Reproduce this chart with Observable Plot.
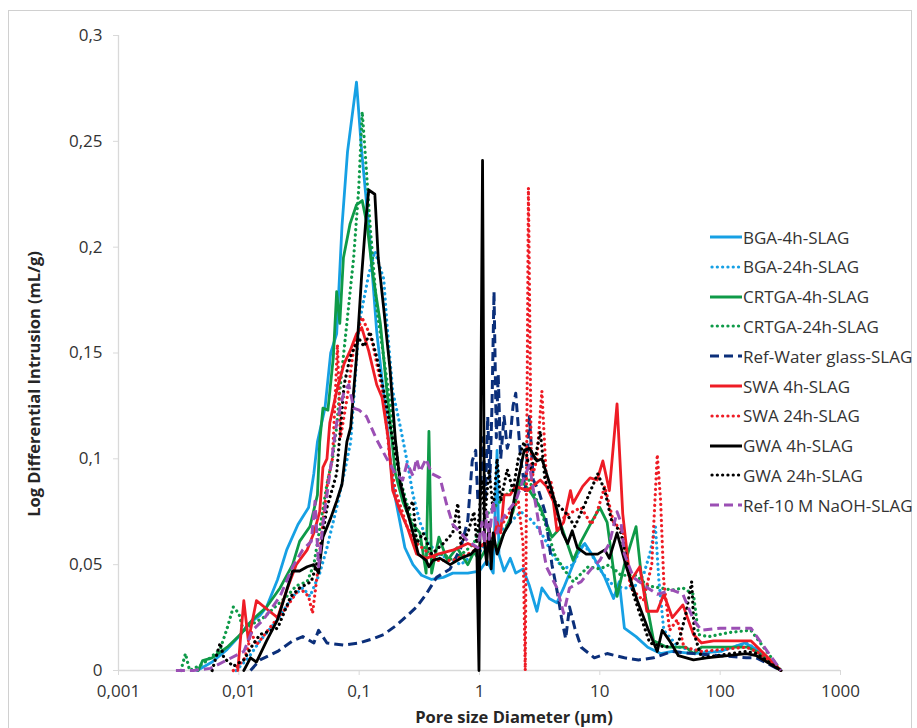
<!DOCTYPE html>
<html><head><meta charset="utf-8">
<script src="https://cdn.jsdelivr.net/npm/d3@7"></script>
<script src="https://cdn.jsdelivr.net/npm/@observablehq/plot@0.6"></script>
<style>
body{margin:0;background:#fff;}
#wrap{position:relative;width:917px;height:728px;overflow:hidden;font-family:"Open Sans",sans-serif;color:#333;}
#frame{position:absolute;left:8px;top:10px;width:902px;height:740px;border:1px solid #d0d0d0;}
#chart{position:absolute;left:0;top:0;}
.ttl{position:absolute;font-weight:bold;font-size:16.5px;white-space:nowrap;color:#262626;}
#ytitle{left:33px;top:384px;transform:translate(-50%,-50%) rotate(-90deg);}
#xtitle{left:514px;top:716px;transform:translate(-50%,-50%);}
.leg{position:absolute;left:710px;height:24px;display:flex;align-items:center;font-size:17px;white-space:nowrap;color:#333;}
.leg svg{margin-right:1px;}
</style></head><body><div id="wrap"><div id="frame"></div><div id="chart"></div>
<div class="ttl" id="ytitle">Log Differential Intrusion (mL/g)</div>
<div class="ttl" id="xtitle">Pore size Diameter (µm)</div>
</div>
<script>
// Tick values
const xTicks = [0.001, 0.01, 0.1, 1, 10, 100, 1000];
const yTicks = [0, 0.05, 0.1, 0.15, 0.2, 0.25, 0.3];
const seriesNames = ["BGA-4h-SLAG","BGA-24h-SLAG","CRTGA-4h-SLAG","CRTGA-24h-SLAG","Ref-Water glass-SLAG","SWA 4h-SLAG","SWA 24h-SLAG","GWA 4h-SLAG","GWA 24h-SLAG","Ref-10 M NaOH-SLAG"];

// [pore diameter (µm), log differential intrusion (mL/g)]
const BGA4h = [[0.0045,0],[0.006,0.004],[0.008,0.01],[0.01,0.016],[0.012,0.022],[0.015,0.026],[0.017,0.03],[0.021,0.043],[0.025,0.057],[0.031,0.069],[0.038,0.077],[0.042,0.093],[0.045,0.108],[0.052,0.124],[0.058,0.15],[0.065,0.159],[0.072,0.21],[0.08,0.245],[0.095,0.278],[0.105,0.245],[0.12,0.21],[0.14,0.16],[0.17,0.117],[0.19,0.088],[0.21,0.075],[0.24,0.058],[0.28,0.05],[0.33,0.045],[0.4,0.043],[0.5,0.044],[0.6,0.046],[0.8,0.046],[1.0,0.047],[1.15,0.052],[1.3,0.046],[1.4,0.104],[1.45,0.055],[1.6,0.047],[1.8,0.053],[2.0,0.046],[2.3,0.048],[2.6,0.04],[3.0,0.028],[3.3,0.039],[3.8,0.034],[4.4,0.032],[5.0,0.039],[6.5,0.055],[7.5,0.06],[9,0.053],[11,0.044],[13,0.034],[14.5,0.042],[16,0.02],[20,0.016],[25,0.011],[32,0.008],[40,0.009],[60,0.008],[100,0.009],[160,0.013],[200,0.01],[320,0]];
const BGA24h = [[0.0095,0],[0.012,0.006],[0.015,0.014],[0.021,0.024],[0.028,0.035],[0.034,0.039],[0.039,0.035],[0.047,0.046],[0.054,0.058],[0.065,0.077],[0.077,0.096],[0.085,0.108],[0.1,0.164],[0.12,0.187],[0.135,0.198],[0.16,0.185],[0.17,0.164],[0.19,0.132],[0.22,0.115],[0.25,0.099],[0.28,0.083],[0.32,0.07],[0.38,0.06],[0.45,0.055],[0.55,0.053],[0.7,0.05],[0.85,0.054],[1.0,0.056],[1.2,0.062],[1.5,0.066],[1.8,0.07],[2.2,0.075],[2.6,0.072],[3,0.068],[3.5,0.062],[4,0.055],[5,0.048],[6,0.05],[7.2,0.06],[8.5,0.055],[10.5,0.046],[13,0.04],[16,0.039],[19,0.039],[23,0.045],[26,0.055],[29,0.068],[31,0.042],[34,0.019],[45,0.011],[70,0.009],[100,0.009],[165,0.013],[200,0.01],[320,0]];
const CRTGA4h = [[0.0046,0],[0.005,0.0047],[0.006,0.006],[0.008,0.011],[0.0103,0.017],[0.013,0.024],[0.017,0.03],[0.022,0.039],[0.028,0.05],[0.032,0.061],[0.039,0.068],[0.045,0.083],[0.047,0.108],[0.05,0.124],[0.055,0.123],[0.061,0.148],[0.065,0.179],[0.069,0.164],[0.074,0.195],[0.084,0.211],[0.095,0.22],[0.106,0.222],[0.116,0.211],[0.13,0.187],[0.15,0.164],[0.17,0.132],[0.2,0.093],[0.23,0.08],[0.27,0.07],[0.32,0.065],[0.36,0.046],[0.38,0.113],[0.4,0.046],[0.46,0.063],[0.54,0.052],[0.65,0.058],[0.8,0.05],[0.9,0.056],[1.0,0.052],[1.2,0.06],[1.4,0.058],[1.6,0.065],[1.9,0.075],[2.2,0.09],[2.6,0.085],[3.2,0.077],[4,0.063],[4.8,0.068],[6,0.052],[7,0.061],[8.5,0.07],[10,0.077],[11.5,0.07],[13.9,0.035],[16,0.05],[20,0.068],[22,0.046],[28,0.014],[36,0.011],[52,0.011],[60,0.008],[70,0.011],[170,0.011],[200,0.009],[320,0]];
const CRTGA24h = [[0.0033,0],[0.0036,0.008],[0.0039,0],[0.005,0.003],[0.007,0.01],[0.008,0.02],[0.009,0.03],[0.01,0.027],[0.011,0.018],[0.013,0.022],[0.016,0.025],[0.02,0.03],[0.025,0.035],[0.03,0.04],[0.037,0.042],[0.042,0.05],[0.048,0.07],[0.054,0.088],[0.06,0.1],[0.065,0.115],[0.069,0.132],[0.079,0.164],[0.09,0.195],[0.099,0.227],[0.106,0.264],[0.113,0.242],[0.123,0.211],[0.14,0.171],[0.16,0.148],[0.19,0.117],[0.22,0.09],[0.26,0.075],[0.3,0.062],[0.35,0.058],[0.4,0.054],[0.5,0.055],[0.6,0.052],[0.75,0.056],[0.9,0.06],[1.0,0.068],[1.2,0.075],[1.5,0.08],[1.8,0.085],[2.2,0.088],[2.6,0.09],[3.0,0.08],[3.5,0.07],[4.2,0.055],[5,0.048],[6,0.042],[8,0.049],[10,0.048],[12,0.05],[15,0.045],[20,0.045],[25,0.04],[32,0.039],[40,0.038],[49,0.039],[60,0.036],[66,0.017],[80,0.016],[120,0.018],[180,0.019],[320,0]];
const RefWater = [[0.0125,0],[0.015,0.005],[0.021,0.009],[0.028,0.014],[0.034,0.016],[0.042,0.013],[0.046,0.019],[0.054,0.013],[0.074,0.012],[0.1,0.013],[0.13,0.015],[0.16,0.017],[0.2,0.021],[0.23,0.024],[0.3,0.03],[0.36,0.036],[0.44,0.044],[0.57,0.048],[0.7,0.058],[0.8,0.071],[0.87,0.099],[0.93,0.104],[0.97,0.08],[1.02,0.085],[1.07,0.11],[1.12,0.08],[1.17,0.12],[1.22,0.09],[1.27,0.125],[1.32,0.179],[1.38,0.11],[1.43,0.14],[1.5,0.1],[1.6,0.12],[1.7,0.105],[1.8,0.11],[1.9,0.125],[2.0,0.131],[2.2,0.1],[2.4,0.085],[2.6,0.12],[2.8,0.09],[3.1,0.085],[3.5,0.075],[4.0,0.05],[4.5,0.035],[4.8,0.025],[5.2,0.015],[5.6,0.03],[6.2,0.02],[7,0.011],[9,0.006],[11.5,0.008],[16,0.006],[21,0.005],[28,0.006],[40,0.009],[60,0.008],[100,0.007],[165,0.006],[200,0.006],[320,0]];
const SWA4h = [[0.0098,0],[0.011,0.033],[0.012,0.014],[0.014,0.033],[0.018,0.028],[0.021,0.025],[0.025,0.038],[0.03,0.05],[0.037,0.057],[0.042,0.065],[0.047,0.075],[0.05,0.096],[0.054,0.1],[0.057,0.117],[0.065,0.132],[0.075,0.145],[0.084,0.151],[0.095,0.159],[0.105,0.162],[0.12,0.151],[0.14,0.135],[0.155,0.129],[0.175,0.109],[0.19,0.085],[0.22,0.075],[0.25,0.068],[0.3,0.055],[0.36,0.053],[0.45,0.055],[0.61,0.057],[0.8,0.06],[0.97,0.058],[1.1,0.06],[1.25,0.055],[1.4,0.07],[1.5,0.065],[1.6,0.083],[1.8,0.083],[2.0,0.087],[2.5,0.085],[3.2,0.09],[3.6,0.087],[4.1,0.08],[4.4,0.066],[5.0,0.07],[5.7,0.085],[6.0,0.079],[7.2,0.087],[8.3,0.091],[9.5,0.09],[10.6,0.099],[12,0.085],[13.9,0.126],[15.5,0.074],[17.9,0.042],[21.5,0.049],[24.6,0.028],[30,0.028],[34,0.036],[40,0.025],[49,0.031],[60,0.017],[70,0.013],[88,0.014],[180,0.014],[320,0]];
const SWA24h = [[0.009,0],[0.011,0.005],[0.012,0.011],[0.0125,0.019],[0.014,0.012],[0.018,0.02],[0.025,0.03],[0.032,0.039],[0.038,0.035],[0.041,0.027],[0.045,0.046],[0.05,0.07],[0.055,0.09],[0.06,0.1],[0.066,0.154],[0.07,0.11],[0.08,0.13],[0.09,0.152],[0.105,0.167],[0.12,0.16],[0.13,0.154],[0.16,0.129],[0.18,0.1],[0.2,0.085],[0.25,0.068],[0.3,0.06],[0.35,0.057],[0.45,0.052],[0.6,0.052],[0.8,0.055],[1.0,0.058],[1.2,0.062],[1.5,0.068],[1.8,0.075],[2.1,0.08],[2.3,0.06],[2.4,0],[2.5,0.15],[2.55,0.228],[2.7,0.09],[3.0,0.1],[3.3,0.132],[3.6,0.09],[3.9,0.09],[4.5,0.07],[5.5,0.074],[7,0.077],[8.5,0.069],[9.5,0.075],[11,0.087],[13,0.07],[15.5,0.066],[18,0.039],[23,0.033],[27,0.05],[30,0.102],[32,0.08],[34,0.042],[38,0.019],[44,0.024],[50,0.011],[70,0.009],[165,0.011],[200,0.009],[320,0]];
const GWA4h = [[0.011,0],[0.0125,0.006],[0.014,0.004],[0.017,0.014],[0.021,0.024],[0.025,0.038],[0.028,0.047],[0.032,0.047],[0.037,0.049],[0.042,0.05],[0.046,0.046],[0.05,0.063],[0.058,0.072],[0.065,0.08],[0.072,0.088],[0.079,0.108],[0.085,0.115],[0.095,0.148],[0.105,0.187],[0.113,0.211],[0.12,0.227],[0.135,0.225],[0.144,0.195],[0.16,0.171],[0.18,0.143],[0.2,0.109],[0.22,0.088],[0.26,0.072],[0.28,0.065],[0.31,0.055],[0.36,0.052],[0.38,0.049],[0.41,0.052],[0.47,0.053],[0.57,0.05],[0.7,0.053],[0.85,0.055],[0.95,0.058],[0.99,0],[1.06,0.241],[1.1,0.06],[1.15,0.05],[1.2,0.07],[1.25,0.048],[1.3,0.065],[1.4,0.055],[1.6,0.065],[1.8,0.07],[2.0,0.085],[2.2,0.096],[2.35,0.104],[2.6,0.105],[3.0,0.099],[3.3,0.1],[3.9,0.087],[4.4,0.076],[4.9,0.065],[5.4,0.06],[5.9,0.066],[6.5,0.058],[7.7,0.055],[9.6,0.055],[11,0.057],[12,0.053],[13.9,0.065],[16.6,0.049],[20.5,0.033],[25,0.02],[30,0.009],[33,0.019],[38,0.014],[45,0.007],[60,0.005],[77,0.006],[165,0.008],[200,0.007],[320,0]];
const GWA24h = [[0.006,0],[0.007,0.013],[0.0075,0.006],[0.009,0.002],[0.011,0.005],[0.013,0.012],[0.015,0.017],[0.021,0.02],[0.027,0.035],[0.032,0.039],[0.04,0.042],[0.047,0.055],[0.054,0.077],[0.065,0.093],[0.075,0.135],[0.084,0.148],[0.099,0.157],[0.11,0.153],[0.123,0.16],[0.14,0.148],[0.16,0.132],[0.19,0.109],[0.22,0.09],[0.25,0.075],[0.28,0.08],[0.3,0.06],[0.34,0.065],[0.4,0.055],[0.5,0.06],[0.6,0.065],[0.66,0.079],[0.7,0.06],[0.8,0.065],[0.9,0.075],[0.95,0.06],[1.05,0.09],[1.1,0.07],[1.2,0.095],[1.3,0.075],[1.4,0.1],[1.5,0.08],[1.7,0.095],[1.9,0.085],[2.1,0.1],[2.35,0.108],[2.6,0.095],[2.9,0.1],[3.2,0.113],[3.5,0.09],[4.2,0.08],[5.3,0.074],[6.2,0.068],[7.7,0.08],[9.6,0.093],[11,0.085],[12.5,0.071],[15,0.065],[19,0.036],[22,0.025],[26,0.013],[35,0.011],[45,0.013],[52,0.027],[58,0.042],[61,0.017],[70,0.006],[165,0.009],[200,0.008],[320,0]];
const RefNaOH = [[0.003,0],[0.0042,0],[0.0058,0.001],[0.008,0.005],[0.011,0.009],[0.013,0.019],[0.016,0.024],[0.022,0.035],[0.028,0.049],[0.034,0.057],[0.04,0.061],[0.043,0.08],[0.046,0.049],[0.05,0.069],[0.057,0.093],[0.065,0.117],[0.075,0.132],[0.082,0.135],[0.09,0.124],[0.1,0.123],[0.115,0.12],[0.14,0.109],[0.17,0.1],[0.2,0.093],[0.23,0.09],[0.25,0.098],[0.28,0.092],[0.3,0.1],[0.32,0.094],[0.36,0.1],[0.4,0.093],[0.47,0.091],[0.53,0.079],[0.6,0.069],[0.7,0.065],[0.8,0.061],[0.97,0.058],[1.05,0.07],[1.1,0.06],[1.15,0.075],[1.2,0.062],[1.3,0.08],[1.4,0.065],[1.5,0.07],[1.7,0.075],[2.0,0.08],[2.3,0.09],[2.6,0.097],[2.9,0.08],[3.2,0.065],[3.6,0.049],[4.4,0.039],[5,0.027],[5.6,0.039],[7,0.042],[8.5,0.048],[10,0.052],[12,0.06],[13.9,0.075],[15,0.07],[16,0.055],[19,0.044],[25,0.039],[30,0.036],[40,0.038],[49,0.036],[60,0.024],[70,0.019],[100,0.02],[180,0.02],[320,0]];

const seriesValues = [BGA4h, BGA24h, CRTGA4h, CRTGA24h, RefWater, SWA4h, SWA24h, GWA4h, GWA24h, RefNaOH];
const seriesColors = ["#16a0e4","#16a0e4","#0e9a48","#0e9a48","#0b2f7a","#ee1c25","#ee1c25","#000000","#000000","#9b4fb4"];
const seriesStyles = ["solid","dot","solid","dot","dash","solid","dot","solid","dot","dash"];

function styleOpts(st){
  if (st === "dot") return {strokeDasharray:"0.1,5.2", strokeLinecap:"round", strokeWidth:3.2};
  if (st === "dash") return {strokeDasharray:"9,5", strokeLinecap:"butt", strokeWidth:3};
  return {strokeWidth:2.8, strokeLinecap:"round"};
}
const fmt = d => String(d).replace(".", ",");

const lineMarks = seriesValues.map((vals, i) => Plot.line(vals, {
  x: d => d[0], y: d => d[1], stroke: seriesColors[i], strokeLinejoin: "round", ...styleOpts(seriesStyles[i])
}));

const chart = Plot.plot({
  width: 917, height: 728,
  marginLeft: 118, marginRight: 77, marginTop: 35, marginBottom: 58,
  style: {fontFamily: "Open Sans, sans-serif", fontSize: "16px", color: "#333", background: "transparent"},
  x: {type: "log", domain: [0.001, 1000]},
  y: {domain: [0, 0.3]},
  marks: [
    Plot.ruleX([0.001], {stroke: "#d9d9d9", strokeWidth: 1.3}),
    Plot.ruleY([0], {stroke: "#d9d9d9", strokeWidth: 1.3}),
    Plot.axisY(yTicks, {tickSize: 5, tickPadding: 11, tickFormat: fmt, stroke: "#d9d9d9", fill: "#333", fontSize: 17, label: null}),
    Plot.axisX(xTicks, {tickSize: 5, tickPadding: 9, tickFormat: fmt, stroke: "#d9d9d9", fill: "#333", fontSize: 17, label: null}),
    ...lineMarks
  ]
});
document.getElementById("chart").appendChild(chart);

// legend
const wrap = document.getElementById("wrap");
seriesNames.forEach((name, i) => {
  const row = document.createElement("div");
  row.className = "leg";
  row.style.top = (225 + i * 29.8) + "px";
  const st = seriesStyles[i];
  let da = "", cap = "butt", sw = 3;
  if (st === "dot") { da = "0.1,5.2"; cap = "round"; sw = 3.2; }
  if (st === "dash") { da = "9,5"; }
  row.innerHTML = `<svg width="32" height="10"><line x1="${st==='dot'?2:0}" y1="5" x2="32" y2="5" stroke="${seriesColors[i]}" stroke-width="${sw}" stroke-linecap="${cap}" ${da?`stroke-dasharray="${da}"`:""}/></svg><span>${name}</span>`;
  wrap.appendChild(row);
});
</script>
</body></html>
